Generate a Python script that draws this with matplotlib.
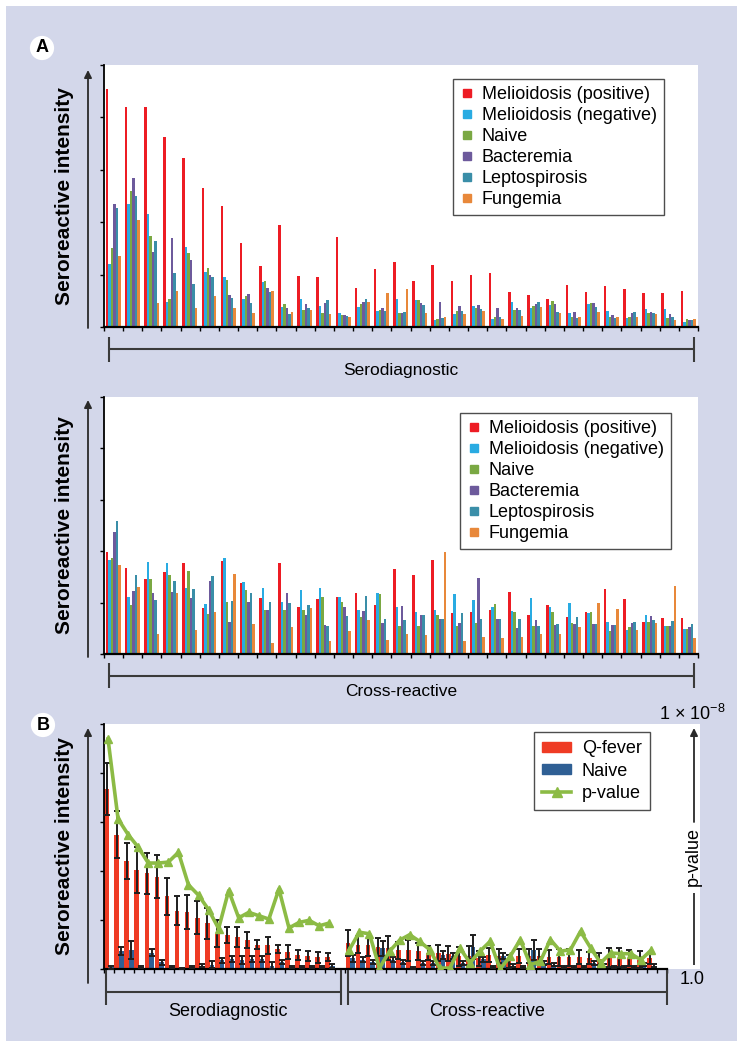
import numpy as np
import matplotlib
matplotlib.use("Agg")
import matplotlib.pyplot as plt
from matplotlib.patches import Rectangle, FancyArrowPatch
from matplotlib.lines import Line2D

plt.rcParams['font.family'] = ['Liberation Sans', 'DejaVu Sans']
plt.rcParams['mathtext.fontset'] = 'custom'
plt.rcParams['mathtext.rm'] = 'Liberation Sans'

# ---- panel A data (31 antigens each) ----
names_a = ['Melioidosis (positive)', 'Melioidosis (negative)', 'Naive',
           'Bacteremia', 'Leptospirosis', 'Fungemia']
colors_a = ['#ed1c24', '#29abe2', '#7aa843', '#6d5a9c', '#3a8ea8', '#e8883a']

sero_pos = [4.54, 4.19, 4.20, 3.62, 3.23, 2.66, 2.31, 1.61, 1.16, 1.95, 0.98, 0.95, 1.72, 0.74, 1.11,
            1.24, 0.88, 1.19, 0.88, 1.00, 1.04, 0.66, 0.61, 0.54, 0.81, 0.66, 0.78, 0.73, 0.64, 0.64, 0.68]
sero_neg = [1.20, 2.35, 2.16, 0.48, 1.52, 1.05, 0.95, 0.54, 0.86, 0.38, 0.53, 0.40, 0.26, 0.38, 0.30,
            0.53, 0.51, 0.13, 0.24, 0.40, 0.15, 0.47, 0.36, 0.42, 0.27, 0.44, 0.30, 0.18, 0.35, 0.35, 0.10]
sero_naive = [1.51, 2.59, 1.73, 0.54, 1.41, 1.12, 0.90, 0.59, 0.88, 0.43, 0.33, 0.27, 0.22, 0.43, 0.33,
              0.27, 0.51, 0.16, 0.31, 0.36, 0.19, 0.33, 0.40, 0.50, 0.19, 0.45, 0.19, 0.20, 0.27, 0.18, 0.15]
sero_bact = [2.35, 2.84, 1.43, 1.70, 1.28, 1.00, 0.61, 0.63, 0.74, 0.36, 0.43, 0.46, 0.22, 0.47, 0.36,
             0.27, 0.45, 0.48, 0.40, 0.42, 0.36, 0.36, 0.44, 0.43, 0.28, 0.45, 0.22, 0.26, 0.29, 0.24, 0.13]
sero_lepto = [2.28, 2.50, 1.64, 1.03, 0.82, 0.96, 0.56, 0.45, 0.66, 0.24, 0.36, 0.51, 0.21, 0.53, 0.31,
              0.29, 0.42, 0.17, 0.30, 0.34, 0.20, 0.32, 0.48, 0.28, 0.17, 0.39, 0.18, 0.28, 0.26, 0.19, 0.13]
sero_fung = [1.36, 2.04, 0.45, 0.68, 0.36, 0.60, 0.36, 0.26, 0.68, 0.28, 0.33, 0.24, 0.19, 0.47, 0.65,
             0.72, 0.26, 0.20, 0.25, 0.31, 0.15, 0.21, 0.38, 0.26, 0.20, 0.29, 0.19, 0.19, 0.25, 0.14, 0.15]

cross_pos = [1.98, 1.67, 1.46, 1.60, 1.77, 0.89, 1.80, 1.38, 1.09, 1.77, 0.91, 1.07, 1.11, 1.18, 0.96,
             1.65, 1.53, 1.82, 0.79, 0.82, 0.85, 1.20, 0.76, 0.95, 0.72, 0.82, 1.26, 1.07, 0.63, 0.70, 0.70]
cross_neg = [1.82, 1.11, 1.79, 1.77, 1.29, 0.97, 1.86, 1.40, 1.29, 1.02, 1.24, 1.29, 1.11, 0.85, 1.18,
             0.92, 0.82, 0.86, 1.16, 1.05, 0.91, 0.84, 1.09, 0.92, 1.00, 0.79, 0.63, 0.47, 0.76, 0.54, 0.49]
cross_naive = [1.86, 0.95, 1.46, 1.53, 1.61, 0.78, 1.01, 1.25, 0.85, 0.85, 0.86, 1.11, 1.02, 0.72, 1.17,
               0.54, 0.54, 0.75, 0.55, 0.60, 0.97, 0.82, 0.55, 0.82, 0.60, 0.82, 0.44, 0.52, 0.63, 0.55, 0.48]
cross_bact = [2.37, 1.22, 1.18, 1.21, 1.08, 1.42, 0.62, 1.01, 0.85, 1.18, 0.76, 0.56, 0.92, 0.83, 0.61,
              0.94, 0.75, 0.69, 0.60, 1.47, 0.69, 0.51, 0.66, 0.56, 0.58, 0.58, 0.56, 0.60, 0.74, 0.54, 0.52]
cross_lepto = [2.58, 1.53, 1.05, 1.42, 1.26, 1.51, 1.03, 1.18, 1.02, 0.99, 0.95, 0.55, 0.74, 1.13, 0.69,
               0.67, 0.75, 0.69, 0.80, 0.69, 0.69, 0.69, 0.55, 0.58, 0.72, 0.58, 0.56, 0.63, 0.67, 0.65, 0.58]
cross_fung = [1.73, 1.31, 0.39, 1.18, 0.47, 0.82, 1.55, 0.59, 0.22, 0.52, 0.90, 0.25, 0.45, 0.67, 0.27,
              0.39, 0.36, 1.99, 0.26, 0.34, 0.31, 0.34, 0.39, 0.39, 0.52, 0.99, 0.87, 0.46, 0.61, 1.32, 0.31]

# ---- panel B data ----
b_sero_qfever = [3.67, 2.74, 2.21, 2.03, 1.95, 1.88, 1.48, 1.19, 1.16, 1.05, 0.93, 0.72, 0.70, 0.65, 0.59,
                 0.50, 0.48, 0.41, 0.35, 0.28, 0.26, 0.24, 0.24]
b_sero_qfever_err = [0.53, 0.48, 0.37, 0.47, 0.41, 0.44, 0.37, 0.30, 0.35, 0.33, 0.31, 0.27, 0.16, 0.20, 0.16,
                     0.10, 0.17, 0.08, 0.15, 0.10, 0.10, 0.11, 0.08]
b_sero_naive = [0.04, 0.36, 0.39, 0.04, 0.33, 0.14, 0.04, 0.01, 0.05, 0.07, 0.09, 0.18, 0.20, 0.19, 0.20,
                0.20, 0.07, 0.14, 0.04, 0.05, 0.04, 0.04, 0.07]
b_sero_naive_err = [0.03, 0.08, 0.19, 0.02, 0.07, 0.05, 0.02, 0.01, 0.02, 0.03, 0.07, 0.05, 0.06, 0.08, 0.06,
                    0.06, 0.07, 0.04, 0.02, 0.02, 0.02, 0.02, 0.04]
b_sero_neglog_p = [7.51, 4.90, 4.39, 3.98, 3.46, 3.46, 3.49, 3.81, 2.75, 2.41, 1.94, 1.32, 2.56, 1.67, 1.85,
                   1.74, 1.63, 2.61, 1.34, 1.52, 1.59, 1.41, 1.50]

b_cross_qfever = [0.53, 0.50, 0.50, 0.45, 0.43, 0.38, 0.38, 0.36, 0.33, 0.33, 0.31, 0.26, 0.27, 0.22, 0.29,
                  0.27, 0.16, 0.27, 0.27, 0.26, 0.24, 0.24, 0.24, 0.24, 0.23, 0.20, 0.23, 0.23, 0.23, 0.19, 0.22]
b_cross_qfever_err = [0.26, 0.18, 0.24, 0.18, 0.24, 0.18, 0.22, 0.17, 0.14, 0.17, 0.15, 0.19, 0.19, 0.15, 0.14,
                      0.14, 0.13, 0.14, 0.14, 0.14, 0.14, 0.17, 0.17, 0.14, 0.12, 0.12, 0.19, 0.19, 0.16, 0.17, 0.11]
b_cross_naive = [0.22, 0.19, 0.14, 0.42, 0.19, 0.14, 0.02, 0.12, 0.12, 0.29, 0.27, 0.12, 0.45, 0.20, 0.04,
                 0.27, 0.07, 0.04, 0.39, 0.12, 0.09, 0.04, 0.04, 0.04, 0.12, 0.07, 0.04, 0.04, 0.05, 0.09, 0.07]
b_cross_naive_err = [0.07, 0.05, 0.04, 0.15, 0.05, 0.04, 0.02, 0.04, 0.04, 0.08, 0.06, 0.04, 0.25, 0.05, 0.02,
                     0.06, 0.03, 0.02, 0.20, 0.04, 0.03, 0.02, 0.02, 0.02, 0.04, 0.03, 0.02, 0.02, 0.02, 0.03, 0.03]
b_cross_neglog_p = [0.63, 1.20, 1.15, 0.03, 0.58, 0.94, 1.12, 0.90, 0.63, 0.03, 0.03, 0.69, 0.20, 0.58, 0.90,
                    0.00, 0.41, 0.96, 0.14, 0.25, 0.96, 0.58, 0.63, 1.23, 0.69, 0.20, 0.52, 0.50, 0.50, 0.30, 0.61]

LAV = '#d3d7ea'
W, H = 743, 1050


def fx(x):
    return x / W


def fy(y):
    return 1 - y / H


fig = plt.figure(figsize=(W / 100, H / 100), dpi=100, facecolor='white')
fig.add_artist(Rectangle((fx(6), fy(1041)), fx(737) - fx(6), (1041 - 6) / H,
                         transform=fig.transFigure, facecolor=LAV, edgecolor='none', zorder=-20))


def fig_line(xs, ys, lw=1.5, color='#3a3a3a'):
    fig.add_artist(Line2D([fx(x) for x in xs], [fy(y) for y in ys], transform=fig.transFigure,
                          color=color, lw=lw, solid_capstyle='butt'))


def fig_arrow(x, y0, y1):
    fig.add_artist(FancyArrowPatch((fx(x), fy(y0)), (fx(x), fy(y1)), transform=fig.transFigure,
                                   arrowstyle='-|>', mutation_scale=11, color='#2a2a2a', lw=1.3,
                                   shrinkA=0, shrinkB=0))


def bracket(x0, x1, y, y0, y1):
    fig_line([x0, x1], [y, y])
    fig_line([x0, x0], [y0, y1])
    fig_line([x1, x1], [y0, y1])


def style_axes(ax):
    for s in ['top', 'right']:
        ax.spines[s].set_visible(False)
    ax.spines['left'].set_linewidth(1.3)
    ax.spines['bottom'].set_linewidth(1.6)
    ax.tick_params(length=3, width=1, direction='out', labelbottom=False, labelleft=False)


def panel_a(top, bottom, series, legend_xy):
    ax = fig.add_axes([fx(104), fy(bottom), fx(698) - fx(104), (bottom - top) / H])
    n = len(series[0])
    x = np.arange(n)
    for j, vals in enumerate(series):
        ax.bar(x + 0.09 + j * 0.13, vals, width=0.13, align='edge', color=colors_a[j], linewidth=0)
    ax.set_xlim(0, n)
    ax.set_ylim(0, 5)
    ax.set_xticks(np.arange(n + 1))
    ax.set_yticks(range(6))
    style_axes(ax)
    handles = [Line2D([], [], marker='s', ls='none', color=c, markersize=5.5) for c in colors_a]
    leg = ax.legend(handles, names_a, loc='upper left', bbox_to_anchor=(fx(legend_xy[0]), fy(legend_xy[1])),
                    bbox_transform=fig.transFigure, borderaxespad=0, fontsize=13, frameon=True,
                    fancybox=False, edgecolor='#222222', handlelength=0.7, handletextpad=0.5,
                    labelspacing=0.22, borderpad=0.4)
    leg.get_frame().set_linewidth(1.0)
    fig.text(fx(65), fy((top + bottom) / 2), 'Seroreactive intensity', rotation=90, ha='center',
             va='center', fontsize=15, fontweight='bold')
    return ax


panel_a(65, 327, [sero_pos, sero_neg, sero_naive, sero_bact, sero_lepto, sero_fung], (453, 79))
panel_a(397, 654, [cross_pos, cross_neg, cross_naive, cross_bact, cross_lepto, cross_fung], (460, 413))

fig_arrow(88, 328, 70)
fig_arrow(88, 657, 400)
bracket(109, 694, 349, 337, 362)
fig.text(fx(401), fy(371), 'Serodiagnostic', ha='center', va='center', fontsize=12.5)
bracket(109, 694, 676, 663, 688)
fig.text(fx(401), fy(692), 'Cross-reactive', ha='center', va='center', fontsize=12.5)

# ---- panel B ----
fig.add_artist(Rectangle((fx(104), fy(969)), fx(700) - fx(104), 245 / H, transform=fig.transFigure,
                         facecolor='white', edgecolor='none', zorder=-10))
axb = fig.add_axes([fx(104), fy(969), fx(667) - fx(104), 245 / H])
axb.set_facecolor('none')
n_slots = 56
sero_x = np.arange(len(b_sero_qfever))
cross_x = np.arange(len(b_cross_qfever)) + len(b_sero_qfever) + 1
qf = '#ef3b24'
nv = '#2f5f94'
pg = '#8cbb45'
for xs, q, qe, nvv, nve in [(sero_x, b_sero_qfever, b_sero_qfever_err, b_sero_naive, b_sero_naive_err),
                            (cross_x, b_cross_qfever, b_cross_qfever_err, b_cross_naive, b_cross_naive_err)]:
    axb.bar(xs + 0.03, q, width=0.47, align='edge', color=qf, linewidth=0, zorder=2)
    axb.bar(xs + 0.5, nvv, width=0.45, align='edge', color=nv, linewidth=0, zorder=2)
    axb.errorbar(xs + 0.265, q, yerr=qe, fmt='none', ecolor='#1e1e1e', elinewidth=1.4, capsize=2.2,
                 capthick=1.4, zorder=3)
    axb.errorbar(xs + 0.725, nvv, yerr=nve, fmt='none', ecolor='#1e1e1e', elinewidth=1.4, capsize=2.2,
                 capthick=1.4, zorder=3)
axb.set_xlim(0, n_slots)
axb.set_ylim(0, 5)
axb.set_xticks(np.arange(n_slots + 1))
axb.set_yticks(range(6))
style_axes(axb)

axp = axb.twinx()
axp.set_yscale('log')
axp.set_ylim(1, 1e-8)
axp.axis('off')
for xs, nl in [(sero_x, b_sero_neglog_p), (cross_x, b_cross_neglog_p)]:
    axp.plot(xs + 0.4, 10 ** (-np.array(nl)), color=pg, lw=2.6, marker='^', markersize=6, zorder=4)

hb = [Rectangle((0, 0), 1, 1, color=qf), Rectangle((0, 0), 1, 1, color=nv),
      Line2D([], [], color=pg, lw=2.6, marker='^', markersize=7)]
legb = axp.legend(hb, ['Q-fever', 'Naive', 'p-value'], loc='upper left',
                  bbox_to_anchor=(fx(534), fy(732)), bbox_transform=fig.transFigure, borderaxespad=0,
                  fontsize=13, fancybox=False, edgecolor='#222222', handlelength=1.6, handleheight=0.5,
                  handletextpad=0.6, labelspacing=0.3, borderpad=0.45)
legb.get_frame().set_linewidth(1.0)

fig.text(fx(65), fy(846), 'Seroreactive intensity', rotation=90, ha='center', va='center',
         fontsize=15, fontweight='bold')
fig_arrow(88, 983, 728)
# p-value axis arrow, broken around its label
fig_line([694, 694], [965, 893], lw=1.3, color='#2a2a2a')
fig_arrow(694, 822, 728)
fig.text(fx(693), fy(857), 'p-value', rotation=90, ha='center', va='center', fontsize=13)
fig.text(fx(726), fy(714), '1 × 10$^{-8}$', ha='right', va='center', fontsize=13)
fig.text(fx(692), fy(980), '1.0', ha='center', va='center', fontsize=13)

bracket(105.7, 340.7, 992, 970, 1005)
bracket(348.3, 666.7, 992, 970, 1005)
fig.text(fx(228), fy(1012), 'Serodiagnostic', ha='center', va='center', fontsize=13)
fig.text(fx(487), fy(1012), 'Cross-reactive', ha='center', va='center', fontsize=13)

for lab, (x, y) in [('A', (42, 48)), ('B', (43, 725))]:
    fig.text(fx(x), fy(y), lab, ha='center', va='center', fontsize=13, fontweight='bold',
             bbox=dict(boxstyle='circle,pad=0.2', fc='white', ec='none'))

fig.savefig('out.png', dpi=100, facecolor=fig.get_facecolor())
